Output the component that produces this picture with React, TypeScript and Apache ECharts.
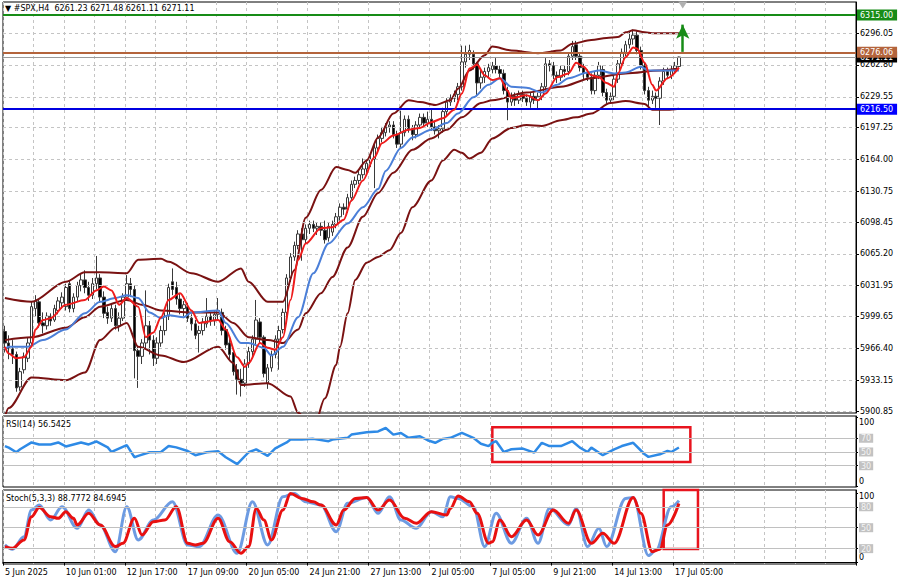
import React, { useEffect, useRef } from "react";
import * as echarts from "echarts";

const FONT = "'DejaVu Sans', Tahoma, sans-serif";

// ---------- axis / layout data ----------
const N_SLOTS = 224;
const LABEL_EVERY = 16;
const GRID_EVERY = 8;
const timeLabels = [
  "5 Jun 2025", "10 Jun 01:00", "12 Jun 17:00", "17 Jun 09:00", "20 Jun 05:00", "24 Jun 21:00",
  "27 Jun 13:00", "2 Jul 05:00", "7 Jul 05:00", "9 Jul 21:00", "14 Jul 13:00", "17 Jul 05:00",
];
const priceTicks = [6296.05, 6262.8, 6229.55, 6197.25, 6164.0, 6130.75, 6098.45, 6065.2, 6031.95, 5999.65, 5966.4, 5933.15, 5900.85];
const PRICE_MIN = 5898.76;
const PRICE_MAX = 6328.67;

const headerSymbol = "#SPX,H4";
const lastBarOHLC = [6261.23, 6271.48, 6261.11, 6271.11];

// horizontal levels drawn on the chart
const resistanceLevel = 6315.0;
const pivotLevel = 6276.06;
const supportLevel = 6216.5;
const lastPrice = 6271.11;

// ---------- candles: [open, close, low, high] ----------
const candles = [
  [5984, 5972, 5962, 5990], [5972, 5966, 5955, 5980], [5966, 5960, 5950, 5975], [5960, 5925, 5921, 5963],
  [5926, 5942, 5922, 5946], [5944, 5958, 5940, 5962], [5956, 5972, 5952, 5978], [5972, 6010, 5968, 6015],
  [6008, 6016, 6000, 6022], [6015, 5993, 5988, 6018], [5993, 5990, 5982, 6004], [5990, 6000, 5986, 6004],
  [6000, 5995, 5990, 6003], [5996, 6008, 5994, 6012], [6006, 6016, 6002, 6020], [6014, 6020, 6008, 6025],
  [6010, 6030, 6006, 6034], [6034, 6008, 6004, 6037], [6008, 6020, 6004, 6024], [6020, 6032, 6015, 6036],
  [6032, 6038, 6026, 6045], [6038, 6030, 6024, 6048], [6030, 6022, 6016, 6036], [6022, 6034, 6018, 6040],
  [6034, 6040, 6028, 6063], [6040, 6020, 6014, 6044], [6020, 6003, 5998, 6026], [6004, 5998, 5992, 6010],
  [5998, 6008, 5994, 6012], [6008, 5990, 5986, 6012], [5990, 5998, 5984, 6004], [5998, 6020, 5995, 6024],
  [6020, 6034, 6016, 6043], [6034, 6028, 6020, 6040], [6028, 5964, 5935, 6032], [5964, 5958, 5925, 5968],
  [5958, 5972, 5950, 5976], [5972, 5990, 5966, 6027], [5990, 5975, 5960, 5995], [5975, 5956, 5948, 5980],
  [5956, 5972, 5950, 5978], [5972, 5985, 5968, 5990], [5985, 6000, 5980, 6004], [6000, 6030, 5996, 6034],
  [6036, 6028, 6022, 6050], [6030, 6018, 6012, 6036], [6018, 6008, 6002, 6024], [6008, 6012, 5998, 6016],
  [6010, 5998, 5994, 6014], [5998, 5992, 5985, 6002], [5992, 5980, 5976, 5996], [5982, 5985, 5962, 5990],
  [5985, 5994, 5980, 5998], [5992, 6000, 5988, 6019], [6000, 5995, 5990, 6004], [5995, 6002, 5990, 6006],
  [6002, 6006, 5996, 6019], [6004, 5985, 5980, 6008], [5986, 5970, 5965, 5990], [5972, 5960, 5955, 5976],
  [5962, 5942, 5938, 5966], [5944, 5934, 5918, 5950], [5934, 5930, 5916, 5945], [5930, 5950, 5926, 5955],
  [5950, 5963, 5946, 5968], [5963, 5976, 5958, 5980], [5976, 5996, 5970, 6017], [5994, 5978, 5972, 5998],
  [5978, 5940, 5936, 5980], [5930, 5946, 5924, 5950], [5946, 5960, 5942, 5964], [5960, 5976, 5956, 5980],
  [5976, 5985, 5944, 5990], [5986, 6004, 5982, 6008], [6004, 6040, 6000, 6044], [6040, 6062, 6036, 6066],
  [6062, 6074, 6058, 6078], [6074, 6086, 6070, 6090], [6086, 6080, 6058, 6092], [6080, 6092, 6076, 6096],
  [6092, 6096, 6086, 6100], [6096, 6092, 6088, 6100], [6092, 6094, 6085, 6098], [6094, 6090, 6084, 6098],
  [6090, 6080, 6076, 6100], [6082, 6094, 6078, 6098], [6088, 6096, 6084, 6100], [6096, 6104, 6092, 6108],
  [6104, 6114, 6100, 6118], [6114, 6112, 6106, 6118], [6112, 6124, 6108, 6128], [6124, 6138, 6120, 6142],
  [6138, 6142, 6134, 6146], [6142, 6148, 6138, 6152], [6148, 6154, 6144, 6165], [6154, 6160, 6150, 6164],
  [6160, 6164, 6156, 6168], [6164, 6176, 6134, 6180], [6176, 6186, 6172, 6190], [6186, 6192, 6182, 6198],
  [6192, 6198, 6188, 6202], [6198, 6200, 6192, 6204], [6200, 6190, 6186, 6204], [6190, 6180, 6176, 6194],
  [6180, 6192, 6176, 6215], [6192, 6206, 6188, 6210], [6206, 6196, 6192, 6210], [6196, 6190, 6184, 6200],
  [6190, 6200, 6186, 6204], [6200, 6208, 6196, 6212], [6208, 6202, 6198, 6212], [6202, 6206, 6198, 6214],
  [6206, 6198, 6194, 6216], [6198, 6194, 6190, 6204], [6194, 6196, 6186, 6200], [6196, 6214, 6192, 6218],
  [6214, 6224, 6210, 6228], [6224, 6228, 6220, 6232], [6228, 6232, 6224, 6236], [6232, 6240, 6226, 6244],
  [6240, 6266, 6236, 6283], [6266, 6274, 6260, 6283], [6274, 6278, 6268, 6284], [6274, 6264, 6258, 6278],
  [6264, 6244, 6230, 6266], [6244, 6250, 6238, 6258], [6250, 6256, 6244, 6260], [6256, 6260, 6250, 6264],
  [6258, 6262, 6254, 6266], [6262, 6258, 6254, 6270], [6258, 6254, 6248, 6262], [6254, 6236, 6232, 6258],
  [6236, 6224, 6205, 6240], [6224, 6230, 6220, 6234], [6230, 6226, 6220, 6234], [6226, 6232, 6222, 6236],
  [6232, 6228, 6224, 6236], [6228, 6224, 6220, 6232], [6224, 6230, 6218, 6234], [6230, 6226, 6222, 6234],
  [6226, 6230, 6216, 6234], [6230, 6240, 6226, 6244], [6240, 6264, 6236, 6270], [6264, 6262, 6256, 6268],
  [6262, 6252, 6248, 6266], [6252, 6250, 6244, 6256], [6250, 6258, 6246, 6262], [6258, 6256, 6250, 6262],
  [6256, 6272, 6252, 6276], [6272, 6282, 6268, 6288], [6284, 6272, 6268, 6288], [6272, 6260, 6256, 6276],
  [6260, 6254, 6248, 6264], [6254, 6250, 6246, 6258], [6250, 6236, 6232, 6254], [6236, 6252, 6232, 6256],
  [6252, 6262, 6248, 6266], [6258, 6234, 6230, 6262], [6234, 6226, 6222, 6238], [6226, 6230, 6222, 6234],
  [6230, 6248, 6226, 6252], [6248, 6264, 6244, 6268], [6264, 6276, 6260, 6280], [6276, 6284, 6272, 6288],
  [6284, 6290, 6280, 6298], [6290, 6294, 6284, 6300], [6294, 6278, 6274, 6298], [6278, 6262, 6258, 6282],
  [6262, 6236, 6232, 6266], [6236, 6226, 6218, 6240], [6226, 6230, 6222, 6236], [6230, 6228, 6218, 6234],
  [6228, 6246, 6200, 6250], [6246, 6256, 6242, 6260], [6256, 6252, 6248, 6260], [6252, 6258, 6248, 6262],
  [6258, 6262, 6254, 6266], [6261.23, 6271.11, 6261.11, 6271.48],
];

// ---------- indicator readings: [barIndex, value] ----------
const bbUpper = [
  [0, 6019], [7, 6015], [16, 6036], [21, 6046], [25, 6046], [32, 6045], [35, 6059], [41, 6060], [43, 6057],
  [49, 6045], [56, 6036], [62, 6050], [64, 6036], [69, 6015], [73, 6015], [76, 6048], [79, 6103], [83, 6132],
  [87, 6156], [90, 6153], [92, 6150], [95, 6163], [98, 6187], [102, 6212], [106, 6226], [109, 6224],
  [113, 6221], [117, 6226], [119, 6238], [122, 6257], [126, 6273], [128, 6282], [133, 6278], [140, 6275],
  [146, 6278], [149, 6285], [154, 6289], [158, 6291], [161, 6292], [163, 6297], [165, 6299], [168, 6297],
  [170, 6296], [177, 6296],
];
const bbMiddle = [
  [0, 5975], [7, 5978], [16, 5988], [21, 5999], [25, 6010], [32, 6017], [36, 6012], [41, 6006], [49, 6004],
  [56, 6004], [60, 5993], [64, 5978], [69, 5975], [73, 5972], [77, 5986], [79, 6003], [83, 6024], [86, 6041],
  [90, 6072], [94, 6104], [98, 6129], [102, 6150], [107, 6174], [112, 6186], [116, 6195], [120, 6208],
  [125, 6223], [128, 6226], [137, 6234], [146, 6240], [154, 6249], [163, 6254], [172, 6257], [177, 6259],
];
const bbLower = [
  [0, 5895], [1, 5904], [7, 5936], [16, 5933], [21, 5941], [25, 5975], [29, 5988], [32, 5993], [35, 5968],
  [41, 5959], [47, 5952], [56, 5968], [60, 5951], [62, 5928], [69, 5930], [75, 5916], [77, 5899], [81, 5881],
  [84, 5914], [87, 5949], [88, 5968], [90, 6003], [92, 6038], [95, 6056], [98, 6062], [101, 6069], [104, 6087],
  [107, 6114], [112, 6142], [115, 6163], [118, 6174], [120, 6171], [122, 6165], [125, 6171], [128, 6186],
  [133, 6197], [137, 6200], [141, 6199], [146, 6205], [150, 6208], [154, 6212], [159, 6223], [163, 6225],
  [168, 6222], [170, 6216], [174, 6216], [177, 6217],
];
const blueMA = [
  [0, 5965], [1, 5968], [6, 5968], [10, 5975], [16, 5986], [21, 6003], [25, 6015], [29, 6019], [32, 6022],
  [35, 6019], [38, 6004], [41, 5998], [43, 6001], [47, 5999], [49, 6004], [56, 6006], [58, 5993], [62, 5972],
  [64, 5972], [68, 5967], [70, 5959], [73, 5968], [77, 5999], [81, 6045], [85, 6076], [90, 6097], [94, 6114],
  [98, 6133], [100, 6152], [104, 6176], [107, 6187], [112, 6195], [116, 6202], [119, 6212], [123, 6229],
  [127, 6242], [130, 6249], [133, 6240], [137, 6239], [141, 6234], [145, 6242], [148, 6249], [153, 6255],
  [156, 6257], [160, 6254], [163, 6255], [167, 6261], [169, 6257], [172, 6257], [177, 6257],
];
const redMA = [
  [0, 5968], [1, 5961], [3, 5956], [5, 5957], [7, 5968], [8, 5986], [10, 5996], [12, 5998], [16, 6012],
  [21, 6017], [24, 6027], [26, 6031], [28, 6027], [30, 6012], [32, 6019], [35, 6010], [37, 5978], [39, 5983],
  [41, 5999], [43, 6017], [46, 6024], [49, 6006], [51, 5993], [56, 5996], [58, 5986], [61, 5957], [63, 5947],
  [64, 5951], [67, 5972], [69, 5967], [71, 5965], [73, 5978], [75, 6017], [77, 6059], [79, 6076], [83, 6092],
  [86, 6093], [89, 6101], [91, 6121], [94, 6142], [97, 6166], [99, 6181], [102, 6189], [106, 6195],
  [109, 6197], [112, 6203], [115, 6207], [118, 6216], [120, 6233], [122, 6259], [124, 6263], [126, 6252],
  [128, 6247], [130, 6249], [132, 6236], [133, 6228], [137, 6231], [140, 6226], [142, 6233], [145, 6250],
  [148, 6254], [150, 6265], [152, 6261], [154, 6252], [156, 6250], [158, 6244], [160, 6240], [161, 6254],
  [163, 6271], [165, 6281], [166, 6280], [168, 6265], [170, 6242], [171, 6236], [174, 6249], [177, 6260],
];
const rsi = [
  [0, 58.6], [1, 56.3], [3, 49.6], [4, 53.9], [7, 63.9], [9, 61.0], [12, 61.0], [14, 63.9], [16, 58.1],
  [20, 63.9], [22, 61.0], [24, 65.3], [27, 56.7], [28, 50.0], [32, 60.0], [34, 42.4], [35, 44.3], [38, 49.6],
  [41, 50.0], [43, 58.6], [45, 56.7], [48, 51.4], [50, 45.3], [53, 49.6], [56, 51.0], [58, 42.4], [61, 32.4],
  [64, 49.6], [66, 53.9], [69, 44.3], [71, 55.3], [74, 63.9], [75, 68.1], [78, 68.1], [81, 69.1], [85, 65.7],
  [86, 68.1], [90, 70.6], [91, 75.3], [95, 78.6], [98, 80.0], [100, 84.9], [102, 75.3], [104, 77.7],
  [106, 70.6], [109, 72.9], [111, 67.1], [113, 63.4], [115, 69.1], [117, 70.6], [120, 77.7], [123, 70.6],
  [125, 62.0], [127, 58.6], [128, 63.4], [129, 65.7], [131, 50.0], [133, 53.9], [136, 54.9], [139, 49.1],
  [141, 63.4], [143, 58.6], [146, 58.6], [149, 65.7], [151, 56.3], [153, 50.0], [154, 56.3], [157, 45.3],
  [160, 53.9], [162, 58.6], [165, 63.4], [168, 46.7], [169, 42.9], [172, 46.7], [174, 51.4], [175, 50.0],
  [177, 56.5],
];
const stochK = [
  [0, 25.3], [2, 19.1], [5, 37.1], [7, 75.3], [9, 82.4], [12, 61.0], [15, 80.0], [19, 49.1], [22, 75.3],
  [25, 53.9], [29, 15.7], [32, 80.0], [35, 32.4], [39, 61.0], [44, 87.1], [48, 25.3], [51, 22.9], [56, 68.1],
  [61, 13.4], [65, 87.1], [69, 25.3], [73, 94.3], [76, 99.1], [79, 87.1], [83, 82.4], [87, 44.3], [90, 84.9],
  [95, 93.4], [98, 70.6], [101, 94.3], [104, 61.0], [108, 49.1], [112, 72.9], [115, 65.7], [117, 94.3],
  [119, 92.0], [123, 80.0], [126, 22.9], [129, 70.6], [133, 27.7], [137, 63.4], [140, 27.7], [143, 77.7],
  [148, 53.9], [150, 77.7], [153, 22.9], [156, 49.1], [158, 22.9], [163, 92.0], [165, 93.4], [169, 10.0],
  [171, 18.1], [175, 80.0], [177, 88.8],
];
const stochD = [
  [0, 22.9], [2, 20.6], [5, 32.4], [7, 65.7], [9, 79.1], [12, 65.7], [14, 63.4], [16, 72.9], [18, 63.4],
  [19, 53.9], [22, 70.6], [25, 53.9], [29, 22.9], [31, 27.7], [34, 63.4], [36, 39.6], [39, 58.6], [42, 61.0],
  [45, 80.0], [48, 27.7], [50, 25.3], [52, 27.7], [56, 63.4], [59, 30.0], [62, 13.4], [64, 22.9], [66, 77.7],
  [68, 61.0], [70, 32.4], [73, 75.3], [75, 99.1], [78, 92.0], [81, 87.1], [83, 82.4], [87, 53.9], [89, 75.3],
  [92, 92.0], [95, 93.4], [98, 75.3], [101, 89.6], [105, 63.4], [108, 56.3], [112, 72.9], [116, 68.1],
  [117, 77.7], [119, 95.3], [122, 87.1], [124, 70.6], [127, 27.7], [128, 30.0], [130, 61.0], [133, 37.1],
  [137, 61.0], [140, 39.6], [144, 75.3], [148, 56.3], [150, 75.3], [154, 27.7], [157, 42.0], [160, 27.7],
  [165, 93.4], [167, 70.6], [170, 15.7], [172, 19.1], [174, 53.9], [177, 84.7],
];

const rsiTicks = [0, 30, 50, 70, 100];
const rsiLevels = [30, 50, 70];
const stochTicks = [0, 20, 50, 80, 100];
const stochLevels = [20, 50, 80];
const rsiLast = "56.5425";
const stochLast = ["88.7772", "84.6945"];

// annotations (data coordinates: bar index, value)
const rsiBox = { from: 128, to: 180, top: 86, bottom: 35.5 };
const stochBox = { from: 173, to: 182, top: 104, bottom: 19.6 };
const arrow = { bar: 178, from: 6276.5, to: 6305 };
const shiftMarker = { bar: 178, value: 6325.5 };

const App: React.FC = () => {
  const ref = useRef<HTMLDivElement>(null);

  useEffect(() => {
    if (!ref.current) return;
    const chart = echarts.init(ref.current, undefined, { renderer: "svg" });
    const slots = Array.from({ length: N_SLOTS }, (_, i) => String(i));
    const closes = candles.map((c) => c[1]);
    const isLabelSlot = (i: number) => i % LABEL_EVERY === 0 && i / LABEL_EVERY < timeLabels.length;
    const dash = { color: "#c4c4c4", type: [3, 3] as any, width: 1 };

    const xAxis = (gridIndex: number, bottom: boolean) => ({
      type: "category",
      gridIndex,
      data: slots,
      boundaryGap: true,
      axisLine: { show: bottom, lineStyle: { color: "#000" } },
      axisTick: { show: bottom, interval: (i: number) => isLabelSlot(i), length: 3, lineStyle: { color: "#000" } },
      axisLabel: {
        show: bottom,
        interval: (i: number) => isLabelSlot(i),
        formatter: (_v: string, i: number) => timeLabels[i / LABEL_EVERY] ?? "",
        align: "left",
        fontSize: 8,
        fontFamily: FONT,
        color: "#000",
        margin: 4,
      },
      splitLine: { show: true, interval: (i: number) => i % GRID_EVERY === 0, lineStyle: dash },
    });

    const hidden = (xi: number, data: any[], z: number) => ({
      type: "line",
      xAxisIndex: xi,
      yAxisIndex: xi,
      data,
      symbol: "none",
      silent: true,
      lineStyle: { opacity: 0, width: 0 },
      z,
    });

    const lineSeries = (name: string, data: number[][], color: string, width: number, z: number, smooth: any, xi = 0) => ({
      name,
      type: "line",
      xAxisIndex: xi,
      yAxisIndex: xi,
      data,
      symbol: "none",
      smooth,
      smoothMonotone: "x",
      silent: true,
      lineStyle: { color, width },
      z,
    });

    const sideLabel = (bg: string) => ({
      show: true,
      position: "end",
      distance: 1,
      color: "#fff",
      fontSize: 8,
      fontFamily: FONT,
      padding: [2, 4, 1, 3],
      backgroundColor: bg,
      formatter: (p: any) => Number(p.value).toFixed(2),
    });

    const oscLabel = (topPad: number, botPad: number) => ({
      customValues: [] as number[],
      fontSize: 8,
      fontFamily: FONT,
      color: "#000",
      margin: 3,
      rich: {
        top: { fontSize: 8, fontFamily: FONT, color: "#000", padding: [topPad, 0, 0, 0] },
        bot: { fontSize: 8, fontFamily: FONT, color: "#000", padding: [0, 0, botPad, 0] },
        lvl: { fontSize: 8, fontFamily: FONT, color: "#f4f4f4", backgroundColor: "#c2c2c2", padding: [1, 2, 0, 2] },
      },
      formatter: (v: number) => (v === 100 ? `{top|${v}}` : v === 0 ? `{bot|${v}}` : `{lvl|${v}}`),
    });

    const rsiLabel = { ...oscLabel(10, 10), customValues: rsiTicks };
    const stochLabel = { ...oscLabel(8, 11), customValues: stochTicks };

    const option: any = {
      animation: false,
      backgroundColor: "#ffffff",
      textStyle: { fontFamily: FONT },
      title: [
        {
          text: `▼ ${headerSymbol}  ${lastBarOHLC.map((v) => v.toFixed(2)).join(" ")}`,
          left: 5, top: 4, padding: 0,
          textStyle: { fontSize: 8, fontWeight: "normal", color: "#000", fontFamily: FONT },
        },
        {
          text: `RSI(14) ${rsiLast}`,
          left: 6, top: 420, padding: 0,
          textStyle: { fontSize: 8, fontWeight: "normal", color: "#000", fontFamily: FONT },
        },
        {
          text: `Stoch(5,3,3) ${stochLast[0]} ${stochLast[1]}`,
          left: 6, top: 494, padding: 0,
          textStyle: { fontSize: 8, fontWeight: "normal", color: "#000", fontFamily: FONT },
        },
      ],
      grid: [
        { left: 3, top: 2, width: 853, height: 411, show: true, borderColor: "#000", borderWidth: 1, backgroundColor: "#fff" },
        { left: 3, top: 416, width: 853, height: 71, show: true, borderColor: "#000", borderWidth: 1, backgroundColor: "#fff" },
        { left: 3, top: 490, width: 853, height: 74, show: true, borderColor: "#000", borderWidth: 1, backgroundColor: "#fff" },
      ],
      xAxis: [xAxis(0, false), xAxis(1, false), xAxis(2, true)],
      yAxis: [
        {
          type: "value", gridIndex: 0, position: "right", min: PRICE_MIN, max: PRICE_MAX,
          axisLine: { show: true, lineStyle: { color: "#000" } },
          axisTick: { show: true, customValues: priceTicks, length: 3, lineStyle: { color: "#000" } },
          axisLabel: {
            customValues: priceTicks, formatter: (v: number) => v.toFixed(2),
            fontSize: 8, fontFamily: FONT, color: "#000", margin: 4,
          },
          splitLine: { show: false },
        },
        {
          type: "value", gridIndex: 1, position: "right", min: -1, max: 102.4,
          axisLine: { show: true, lineStyle: { color: "#000" } },
          axisTick: { show: true, customValues: rsiTicks, length: 2, lineStyle: { color: "#000" } },
          axisLabel: rsiLabel,
          splitLine: { show: false },
        },
        {
          type: "value", gridIndex: 2, position: "right", min: -2, max: 104,
          axisLine: { show: true, lineStyle: { color: "#000" } },
          axisTick: { show: true, customValues: stochTicks, length: 2, lineStyle: { color: "#000" } },
          axisLabel: stochLabel,
          splitLine: { show: false },
        },
      ],
      series: [
        // main price panel
        {
          ...hidden(0, closes, 1),
          name: "priceGrid",
          markLine: {
            silent: true, symbol: "none", label: { show: false },
            lineStyle: dash,
            data: priceTicks.map((v) => ({ yAxis: v })),
          },
        },
        {
          name: "candles",
          type: "candlestick",
          xAxisIndex: 0,
          yAxisIndex: 0,
          data: candles,
          barWidth: 3,
          silent: true,
          z: 3,
          itemStyle: { color: "#ffffff", color0: "#000000", borderColor: "#3a3a3a", borderColor0: "#3a3a3a", borderWidth: 1 },
          markLine: {
            silent: true, symbol: "none",
            lineStyle: { color: "#9a9a9a", width: 1, type: "solid" },
            label: sideLabel("#000000"),
            data: [{ yAxis: lastPrice }],
          },
        },
        lineSeries("bbUpper", bbUpper, "#7a1212", 2, 4, 0.3),
        lineSeries("bbMiddle", bbMiddle, "#7a1212", 2, 4, 0.3),
        lineSeries("bbLower", bbLower, "#7a1212", 2, 4, 0.3),
        lineSeries("blueMA", blueMA, "#4b7fd8", 2, 5, 0.3),
        lineSeries("redMA", redMA, "#ee1c1c", 2, 6, 0.3),
        {
          ...hidden(0, closes, 8),
          name: "levels",
          markLine: {
            silent: true, symbol: "none",
            data: [
              { yAxis: resistanceLevel, lineStyle: { color: "#178c17", width: 2, type: "solid" }, label: sideLabel("#178c17") },
              { yAxis: pivotLevel, lineStyle: { color: "#b4643c", width: 2, type: "solid" }, label: sideLabel("#b4643c") },
              { yAxis: supportLevel, lineStyle: { color: "#0000e0", width: 2, type: "solid" }, label: sideLabel("#0000ff") },
            ],
          },
        },
        {
          ...hidden(0, closes, 9),
          name: "arrow",
          markLine: {
            silent: true, symbol: ["none", "arrow"], symbolSize: [10, 14],
            label: { show: false },
            lineStyle: { color: "#178c17", width: 2.5, type: "solid" },
            data: [[{ coord: [arrow.bar, arrow.from] }, { coord: [arrow.bar, arrow.to] }]],
          },
          markPoint: {
            silent: true, symbol: "triangle", symbolRotate: 180, symbolSize: [9, 7],
            itemStyle: { color: "#b0b0b0" }, label: { show: false },
            data: [{ coord: [shiftMarker.bar, shiftMarker.value] }],
          },
        },
        // RSI panel
        {
          ...hidden(1, rsi, 1),
          name: "rsiLevels",
          markLine: {
            silent: true, symbol: "none", label: { show: false },
            lineStyle: { color: "#c0c0c0", width: 1, type: "solid" },
            data: rsiLevels.map((v) => ({ yAxis: v })),
          },
        },
        {
          ...lineSeries("RSI", rsi, "#2e8ae6", 2.5, 3, false, 1),
          markArea: {
            silent: true,
            itemStyle: { color: "rgba(0,0,0,0)", borderColor: "#e8141e", borderWidth: 2.5 },
            data: [[{ coord: [rsiBox.from, rsiBox.top] }, { coord: [rsiBox.to, rsiBox.bottom] }]],
          },
        },
        // Stochastic panel
        {
          ...hidden(2, stochK, 1),
          name: "stochLevels",
          markLine: {
            silent: true, symbol: "none", label: { show: false },
            lineStyle: { color: "#c0c0c0", width: 1, type: "solid" },
            data: stochLevels.map((v) => ({ yAxis: v })),
          },
        },
        lineSeries("%K", stochK, "#6d9be2", 3, 3, 0.35, 2),
        {
          ...lineSeries("%D", stochD, "#e81010", 3, 4, 0.35, 2),
          markArea: {
            silent: true,
            itemStyle: { color: "rgba(0,0,0,0)", borderColor: "#e8141e", borderWidth: 2.5 },
            data: [[{ coord: [stochBox.from, stochBox.top] }, { coord: [stochBox.to, stochBox.bottom] }]],
          },
        },
      ],
    };

    chart.setOption(option);
    return () => chart.dispose();
  }, []);

  return <div ref={ref} style={{ position: "absolute", left: 0, top: 0, width: 900, height: 584 }} />;
};

export default App;
